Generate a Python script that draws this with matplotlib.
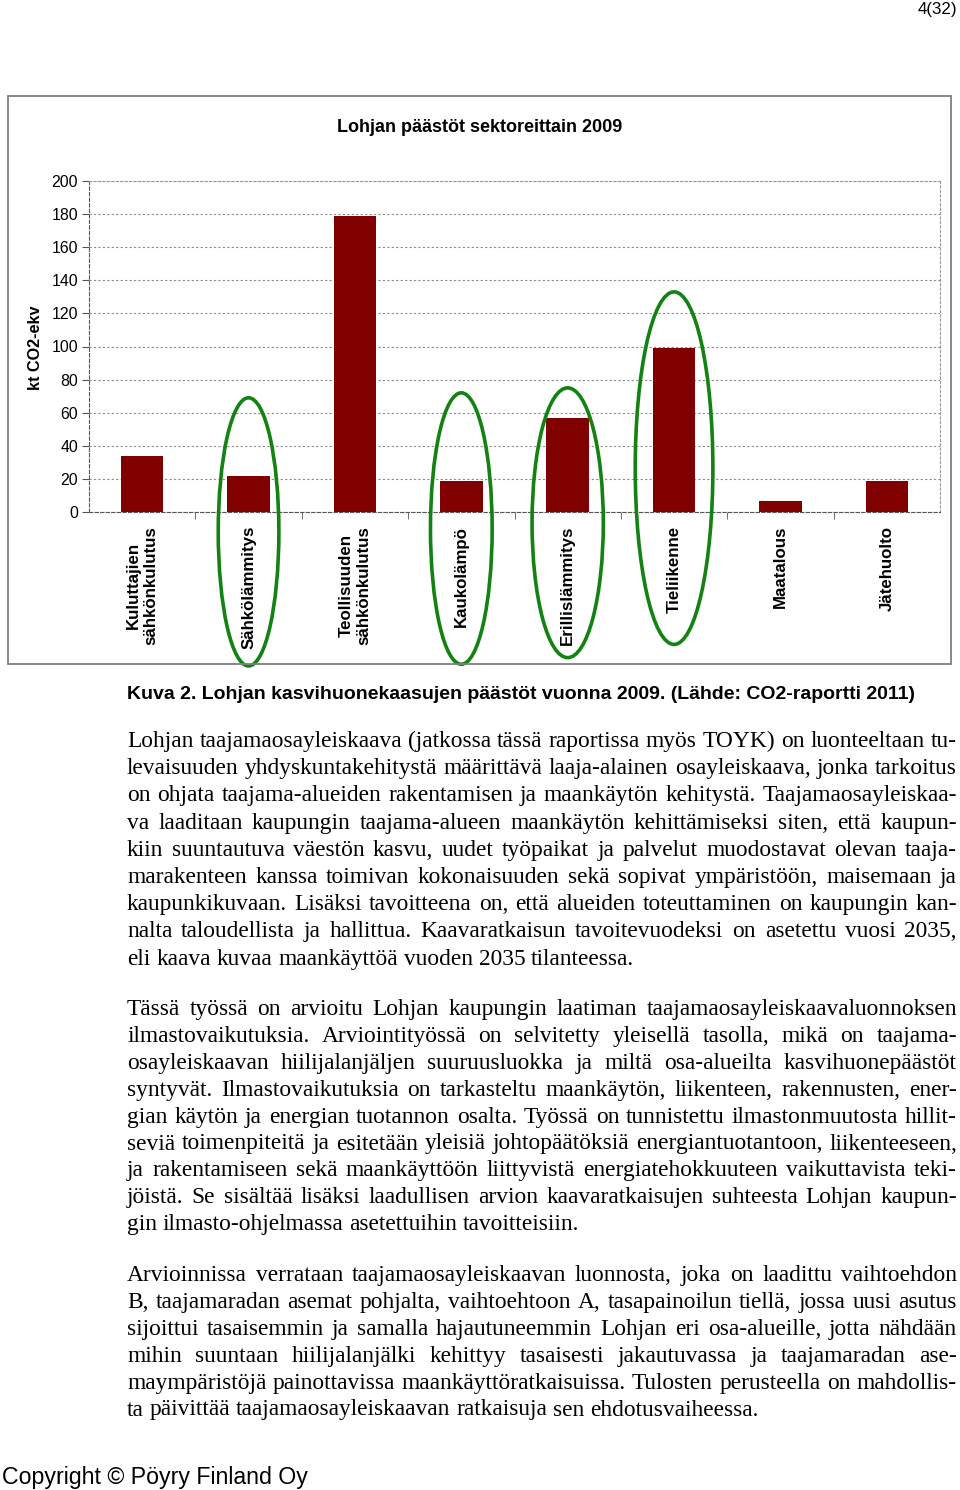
import matplotlib
matplotlib.use('Agg')
import matplotlib.pyplot as plt
from matplotlib.patches import Ellipse, Rectangle
from matplotlib.font_manager import FontProperties

plt.rcParams['font.family'] = ['Liberation Sans', 'DejaVu Sans']

# chart data (kt CO2-ekv)
sectors = ['Kuluttajien\nsähkönkulutus', 'Sähkölämmitys', 'Teollisuuden\nsähkönkulutus',
           'Kaukolämpö', 'Erillislämmitys', 'Tieliikenne', 'Maatalous', 'Jätehuolto']
emissions = [34, 22, 179, 19, 57, 99, 6.5, 19]
yticks = [0, 20, 40, 60, 80, 100, 120, 140, 160, 180, 200]

# hand drawn green rings: category index, width, bottom, top (data units)
rings = [(1, 0.57, -93, 69), (3, 0.58, -92, 72), (4, 0.67, -88, 75), (5, 0.73, -80, 133)]

chart_title = 'Lohjan päästöt sektoreittain 2009'
ylabel = 'kt CO2-ekv'
caption = 'Kuva 2. Lohjan kasvihuonekaasujen päästöt vuonna 2009. (Lähde: CO2-raportti 2011)'
page_no = '4(32)'
footer = 'Copyright © Pöyry Finland Oy'

para1 = [
    'Lohjan taajamaosayleiskaava (jatkossa tässä raportissa myös TOYK) on luonteeltaan tu-',
    'levaisuuden yhdyskuntakehitystä määrittävä laaja-alainen osayleiskaava, jonka tarkoitus',
    'on ohjata taajama-alueiden rakentamisen ja maankäytön kehitystä. Taajamaosayleiskaa-',
    'va laaditaan kaupungin taajama-alueen maankäytön kehittämiseksi siten, että kaupun-',
    'kiin suuntautuva väestön kasvu, uudet työpaikat ja palvelut muodostavat olevan taaja-',
    'marakenteen kanssa toimivan kokonaisuuden sekä sopivat ympäristöön, maisemaan ja',
    'kaupunkikuvaan. Lisäksi tavoitteena on, että alueiden toteuttaminen on kaupungin kan-',
    'nalta taloudellista ja hallittua. Kaavaratkaisun tavoitevuodeksi on asetettu vuosi 2035,',
    'eli kaava kuvaa maankäyttöä vuoden 2035 tilanteessa.',
]
para2 = [
    'Tässä työssä on arvioitu Lohjan kaupungin laatiman taajamaosayleiskaavaluonnoksen',
    'ilmastovaikutuksia. Arviointityössä on selvitetty yleisellä tasolla, mikä on taajama-',
    'osayleiskaavan hiilijalanjäljen suuruusluokka ja miltä osa-alueilta kasvihuonepäästöt',
    'syntyvät. Ilmastovaikutuksia on tarkasteltu maankäytön, liikenteen, rakennusten, ener-',
    'gian käytön ja energian tuotannon osalta. Työssä on tunnistettu ilmastonmuutosta hillit-',
    'seviä toimenpiteitä ja esitetään yleisiä johtopäätöksiä energiantuotantoon, liikenteeseen,',
    'ja rakentamiseen sekä maankäyttöön liittyvistä energiatehokkuuteen vaikuttavista teki-',
    'jöistä. Se sisältää lisäksi laadullisen arvion kaavaratkaisujen suhteesta Lohjan kaupun-',
    'gin ilmasto-ohjelmassa asetettuihin tavoitteisiin.',
]
para3 = [
    'Arvioinnissa verrataan taajamaosayleiskaavan luonnosta, joka on laadittu vaihtoehdon',
    'B, taajamaradan asemat pohjalta, vaihtoehtoon A, tasapainoilun tiellä, jossa uusi asutus',
    'sijoittui tasaisemmin ja samalla hajautuneemmin Lohjan eri osa-alueille, jotta nähdään',
    'mihin suuntaan hiilijalanjälki kehittyy tasaisesti jakautuvassa ja taajamaradan ase-',
    'maympäristöjä painottavissa maankäyttöratkaisuissa. Tulosten perusteella on mahdollis-',
    'ta päivittää taajamaosayleiskaavan ratkaisuja sen ehdotusvaiheessa.',
]

W, H = 960, 1490
fig = plt.figure(figsize=(W / 100, H / 100), dpi=100)

def fx(px):
    return px / W

def fy(py):
    return 1 - py / H

# chart frame
fig.add_artist(Rectangle((fx(8), fy(664)), fx(951) - fx(8), fy(96) - fy(664),
                         transform=fig.transFigure, fill=False, ec='#7f7f7f', lw=1.3))
fig.text(fx(480), fy(132), chart_title, ha='center', va='baseline', fontsize=13, fontweight='bold')

ax = fig.add_axes([fx(89), fy(512), fx(940) - fx(89), fy(181) - fy(512)])
x = list(range(len(sectors)))
ax.bar(x, emissions, width=0.4, color='#800000', zorder=3)
ax.set_xlim(-0.5, len(sectors) - 0.5)
ax.set_ylim(0, 200)
ax.set_yticks(yticks)
ax.tick_params(axis='y', labelsize=11.4, length=5, color='#555555', pad=3)
ax.yaxis.grid(True, linestyle=(0, (2, 2)), color='#8c8c8c', lw=0.8, zorder=0)
ax.set_xticks(x)
ax.set_xticklabels(sectors, rotation=90, fontsize=12.2, fontweight='bold',
                   va='top', ha='center', multialignment='center')
ax.tick_params(axis='x', length=0, pad=10)
ax.set_xticks([i + 0.5 for i in x[:-1]], minor=True)
ax.tick_params(axis='x', which='minor', length=5, color='#555555')
for side in ['left', 'bottom']:
    ax.spines[side].set_linestyle((0, (3, 2)))
    ax.spines[side].set_color('#555555')
for side in ['top', 'right']:
    ax.spines[side].set_linestyle((0, (2, 2)))
    ax.spines[side].set_color('#9a9a9a')
fig.text(fx(35), fy(348), ylabel, rotation=90, ha='center', va='center',
         fontsize=11.7, fontweight='bold')

for idx, wdt, lo, hi in rings:
    ax.add_patch(Ellipse((idx, (lo + hi) / 2), wdt, hi - lo, fill=False,
                         ec='#138213', lw=2.6, clip_on=False, zorder=5))

# caption, header, footer
fig.text(fx(127), fy(699), caption, ha='left', va='baseline', fontsize=14,
         fontweight='bold')
fig.text(fx(957), fy(14), page_no, ha='right', va='baseline', fontsize=12.2)
fig.text(fx(2), fy(1484), footer, ha='left', va='baseline', fontsize=16.7)

# justified body text
body_size = 16.8
renderer = fig.canvas.get_renderer()
left, right = 127, 957

def word_w(s, fp):
    return renderer.get_text_width_height_descent(s, fp, ismath=False)[0]

def draw_para(lines, base, step):
    for i, line in enumerate(lines):
        yb = base + i * step
        words = line.split(' ')
        size = body_size
        fp = FontProperties(family='Liberation Serif', size=size)
        space_w = word_w('a b', fp) - word_w('ab', fp)
        widths = [word_w(w, fp) for w in words]
        last = i == len(lines) - 1
        if not last:
            # shrink an over-long line so words keep a small gap
            while sum(widths) + 0.6 * space_w * (len(words) - 1) > right - left:
                size -= 0.1
                fp = FontProperties(family='Liberation Serif', size=size)
                space_w = word_w('a b', fp) - word_w('ab', fp)
                widths = [word_w(w, fp) for w in words]
        gap = space_w if last else (right - left - sum(widths)) / (len(words) - 1)
        xp = left
        for w, ww in zip(words, widths):
            fig.text(fx(xp), fy(yb), w, fontproperties=fp, ha='left', va='baseline')
            xp += ww + gap

draw_para(para1, 747, 27.2)
draw_para(para2, 1015, 26.9)
draw_para(para3, 1281, 26.9)

fig.savefig('out.png', dpi=100)
